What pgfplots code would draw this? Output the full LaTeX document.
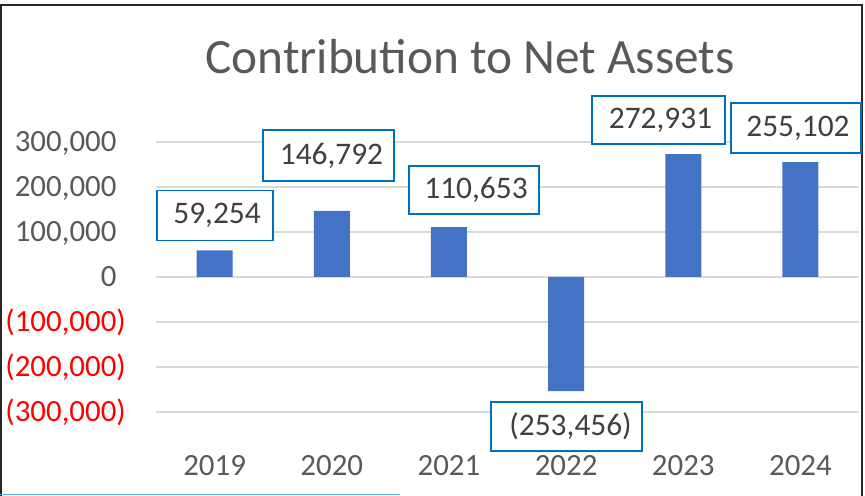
\documentclass[border=0pt]{standalone}
\usepackage{pgfplots}
\pgfplotsset{compat=1.18}
\usepackage{fontspec}
\setmainfont{Carlito}
\definecolor{barblue}{HTML}{4472C4}
\definecolor{boxblue}{HTML}{0070C0}
\definecolor{ticktext}{HTML}{595959}
\definecolor{labtext}{HTML}{404040}
\definecolor{gridgray}{HTML}{D9D9D9}
\newcommand{\pos}[1]{#1\phantom{)}}
\newcommand{\nega}[1]{\textcolor{red}{#1}}
\tikzset{lab/.style={draw=boxblue, line width=1.5bp, fill=white, text=labtext, font=\fontsize{31.5}{36}\selectfont, inner sep=0pt}}
\begin{document}
\begin{tikzpicture}[x=1bp,y=1bp]
\path[use as bounding box] (0,0) rectangle (865,496);
\draw[line width=1.5bp, color=black!85] (1,0) -- (1,491) -- (862,491) -- (862,0);
\draw[line width=1.5bp, color=boxblue!60] (0,1.5) -- (400,1.5);
\node[text=ticktext, font=\fontsize{49.5}{56}\selectfont] at (470,439) {Contribution to Net Assets};
\begin{axis}[
  at={(156bp,39bp)}, anchor=south west,
  scale only axis, width=703bp, height=315bp,
  xmin=-0.5, xmax=5.5, ymin=-400000, ymax=300000,
  axis line style={draw=none}, tick style={draw=none},
  xtick={0,1,2,3,4,5},
  xticklabels={2019,2020,2021,2022,2023,2024},
  ytick={-300000,-200000,-100000,0,100000,200000,300000},
  yticklabels={{\nega{(300,000)}},{\nega{(200,000)}},{\nega{(100,000)}},{\pos{0}},{\pos{100,000}},{\pos{200,000}},{\pos{300,000}}},
  scaled y ticks=false,
  ymajorgrids, grid style={gridgray, line width=1.5bp},
  ticklabel style={font=\fontsize{31}{36}\selectfont, text=ticktext},
  yticklabel style={anchor=east, inner sep=0pt, xshift=-30bp},
  xticklabel style={anchor=north, inner sep=0pt, yshift=2bp},
  clip=false,
]
\addplot[ybar, bar width=36bp, fill=barblue, draw=none] coordinates {(0,59254) (1,146792) (2,110653) (3,-253456) (4,272931) (5,255102)};
\node[lab, minimum width=116bp, minimum height=50bp] at (axis cs:0.004,136700) {\hspace{4bp}59,254};
\node[lab, minimum width=131bp, minimum height=51bp] at (axis cs:0.972,270000) {\hspace{6bp}146,792};
\node[lab, minimum width=130bp, minimum height=48bp] at (axis cs:2.214,193300) {\hspace{4bp}110,653};
\node[lab, minimum width=133bp, minimum height=48bp] at (axis cs:3.789,348900) {\hspace{4bp}272,931};
\node[lab, minimum width=130bp, minimum height=50bp] at (axis cs:4.962,331100) {\hspace{4bp}255,102};
\node[lab, minimum width=151bp, minimum height=49bp] at (axis cs:3.004,-332200) {\hspace{8bp}(253,456)};
\end{axis}
\end{tikzpicture}
\end{document}
